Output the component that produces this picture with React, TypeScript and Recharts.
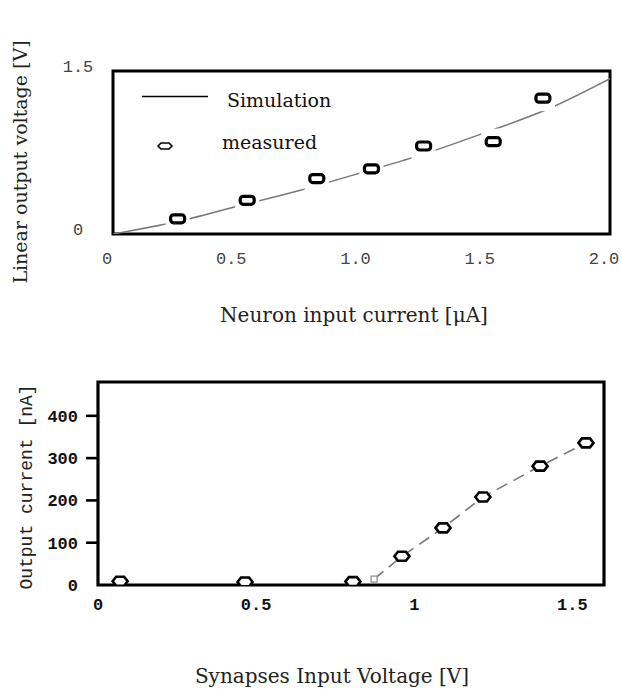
import React from 'react';
import {
  ComposedChart,
  Line,
  Scatter,
  XAxis,
  YAxis,
  ReferenceArea,
  Legend,
  Label,
} from 'recharts';

// ---------- Top chart data ----------
const topSimX = [0, 0.25, 0.5, 0.75, 1.0, 1.25, 1.5, 1.75, 2.0];
const topSimY = [0, 0.11, 0.255, 0.4, 0.565, 0.735, 0.935, 1.15, 1.43];
const topMeasX = [0.26, 0.54, 0.82, 1.04, 1.25, 1.53, 1.73];
const topMeasY = [0.14, 0.31, 0.51, 0.6, 0.81, 0.85, 1.25];
const topXTicks = [0, 0.5, 1.0, 1.5, 2.0];
const topXTickLabels = ['0', '0.5', '1.0', '1.5', '2.0'];
const topYTicks = [0, 1.5];
const topYTickLabels = ['0', '1.5'];
const topInnerTicks = [0.5, 1.0, 1.5];

// ---------- Bottom chart data ----------
const botSimX = [0.873, 0.961, 1.091, 1.217, 1.398, 1.543];
const botSimY = [14, 68, 135, 208, 281, 336];
const botMeasX = [0.07, 0.465, 0.806, 0.961, 1.091, 1.217, 1.398, 1.543];
const botMeasY = [9, 7, 8, 68, 135, 208, 281, 336];
const botXTicks = [0, 0.5, 1, 1.5];
const botYTicks = [0, 100, 200, 300, 400];

const topSim = topSimX.map((x, i) => ({ x, y: topSimY[i] }));
const topMeas = topMeasX.map((x, i) => ({ x, y: topMeasY[i] }));
const botSim = botSimX.map((x, i) => ({ x, y: botSimY[i] }));
const botMeas = botMeasX.map((x, i) => ({ x, y: botMeasY[i] }));

const SERIF = '"DejaVu Serif", serif';
const MONO = '"Liberation Mono", monospace';

const TopMarker = (props: any) => {
  const { cx, cy } = props;
  if (cx == null || cy == null) return <g />;
  return (
    <g>
      <rect x={cx - 12} y={cy - 13} width={24} height={26} fill="#fff" />
      <rect x={cx - 7} y={cy - 4} width={14} height={8} rx={3} fill="#fff" stroke="#000" strokeWidth={3.2} />
    </g>
  );
};

const hexPath = (cx: number, cy: number) =>
  `M${cx - 7.5},${cy} L${cx - 4},${cy - 4.5} L${cx + 4},${cy - 4.5} L${cx + 7.5},${cy} L${cx + 4},${cy + 4.5} L${cx - 4},${cy + 4.5} Z`;

const BotMarker = (props: any) => {
  const { cx, cy } = props;
  if (cx == null || cy == null) return <g />;
  return <path d={hexPath(cx, cy)} fill="#fff" stroke="#000" strokeWidth={2.6} />;
};

const renderTopLegend = (props: any) => {
  const payload = props.payload || [];
  return (
    <div style={{ position: 'relative', width: 250, height: 90 }}>
      {payload.map((entry: any, i: number) => {
        const isLine = entry.type === 'line';
        const rowTop = isLine ? 0 : 42;
        return (
          <div key={`lg-${i}`}>
            {isLine ? (
              <svg style={{ position: 'absolute', left: 12, top: 15 }} width={66} height={3}>
                <line x1={0} y1={1.5} x2={66} y2={1.5} stroke="#000" strokeWidth={1.3} />
              </svg>
            ) : (
              <svg style={{ position: 'absolute', left: 26, top: 61 }} width={18} height={10}>
                <path d="M2,5 L5,2 L13,2 L16,5 L13,8 L5,8 Z" fill="#fff" stroke="#000" strokeWidth={1.6} />
              </svg>
            )}
            <span
              style={{
                position: 'absolute',
                left: isLine ? 97 : 92,
                top: rowTop + 9,
                fontFamily: SERIF,
                fontSize: 19,
                lineHeight: 'normal',
                color: '#111',
                whiteSpace: 'nowrap',
              }}
            >
              {entry.value}
            </span>
          </div>
        );
      })}
    </div>
  );
};

const TopYTick = (props: any) => {
  const { x, y, payload, index } = props;
  const i = topYTicks.indexOf(payload.value);
  return (
    <text
      x={x - 27}
      y={y - 5}
      dy="0.35em"
      textAnchor="middle"
      fontFamily={MONO}
      fontSize={17}
      fill="#444"
    >
      {topYTickLabels[i >= 0 ? i : index]}
    </text>
  );
};

const BotYTick = (props: any) => {
  const { x, y, payload } = props;
  return (
    <g>
      {payload.value !== 0 && (
        <line x1={x + 8} y1={y} x2={x + 20} y2={y} stroke="#000" strokeWidth={2.6} />
      )}
      <text
        x={x}
        y={y}
        dy="0.35em"
        textAnchor="end"
        fontFamily={MONO}
        fontWeight="bold"
        fontSize={17}
        fill="#111"
      >
        {payload.value}
      </text>
    </g>
  );
};

const TopChart = () => (
  <ComposedChart
    width={622}
    height={340}
    margin={{ top: 66, right: 12, bottom: 0, left: 0 }}
  >
    <XAxis
      xAxisId={0}
      dataKey="x"
      type="number"
      domain={[0, 2]}
      ticks={topXTicks}
      tickFormatter={(v: number) => topXTickLabels[topXTicks.indexOf(v)] ?? String(v)}
      axisLine={false}
      tickLine={false}
      tickSize={6}
      tickMargin={12}
      height={106}
      tick={{ fontFamily: MONO, fontSize: 17, fill: '#444', dx: -6 }}
      allowDataOverflow
    >
      <Label
        value="Neuron input current [μA]"
        content={() => (
          <text x={354} y={322} textAnchor="middle" fontFamily={SERIF} fontSize={20} fill="#222">
            Neuron input current [μA]
          </text>
        )}
      />
    </XAxis>
    <XAxis
      xAxisId="top"
      orientation="top"
      type="number"
      dataKey="x"
      domain={[0, 2]}
      ticks={topInnerTicks}
      tickFormatter={() => ''}
      axisLine={false}
      tickLine={{ stroke: '#000', strokeWidth: 1.5 }}
      tickSize={5}
      tickMargin={0}
      height={5}
    />
    <YAxis
      type="number"
      domain={[0, 1.5]}
      ticks={topYTicks}
      width={113}
      axisLine={false}
      tickLine={false}
      tick={<TopYTick />}
      allowDataOverflow
    >
      <Label
        value="Linear output voltage [V]"
        content={() => (
          <text
            x={20}
            y={162}
            transform="rotate(-90 20 162)"
            textAnchor="middle"
            dominantBaseline="central"
            fontFamily={SERIF}
            fontSize={19}
            fill="#222"
          >
            Linear output voltage [V]
          </text>
        )}
      />
    </YAxis>
    <ReferenceArea x1={0} x2={2} y1={0} y2={1.5} fill="none" fillOpacity={0} stroke="#000" strokeWidth={3} />
    <Legend
      layout="vertical"
      align="center"
      verticalAlign="middle"
      wrapperStyle={{ left: 130, top: 80, width: 250, height: 90 }}
      content={renderTopLegend}
    />
    <Line
      data={topSim}
      dataKey="y"
      name="Simulation"
      type="monotone"
      stroke="#777"
      strokeWidth={1.5}
      dot={false}
      activeDot={false}
      legendType="line"
      isAnimationActive={false}
    />
    <Scatter
      data={topMeas}
      dataKey="y"
      name="measured"
      legendType="circle"
      shape={<TopMarker />}
      isAnimationActive={false}
    />
  </ComposedChart>
);

const BotChart = () => (
  <ComposedChart
    width={622}
    height={353}
    margin={{ top: 42, right: 18, bottom: 0, left: 0 }}
  >
    <XAxis
      dataKey="x"
      type="number"
      domain={[0, 1.6]}
      ticks={botXTicks}
      axisLine={false}
      tickLine={false}
      tickSize={6}
      tickMargin={7}
      height={108}
      tick={{ fontFamily: MONO, fontSize: 17, fontWeight: 'bold', fill: '#111' }}
      allowDataOverflow
    >
      <Label
        value="Synapses Input Voltage [V]"
        content={() => (
          <text x={332} y={343} textAnchor="middle" fontFamily={SERIF} fontSize={20} fill="#222">
            Synapses Input Voltage [V]
          </text>
        )}
      />
    </XAxis>
    <YAxis
      type="number"
      domain={[0, 480]}
      ticks={botYTicks}
      width={98}
      axisLine={false}
      tickLine={false}
      tickSize={12}
      tickMargin={8}
      tick={<BotYTick />}
      allowDataOverflow
    >
      <Label
        value="Output current [nA]"
        content={() => (
          <text
            x={27}
            y={147}
            transform="rotate(-90 27 147)"
            textAnchor="middle"
            dominantBaseline="central"
            fontFamily={MONO}
            fontSize={18}
            fill="#222"
          >
            Output current [nA]
          </text>
        )}
      />
    </YAxis>
    <ReferenceArea x1={0} x2={1.6} y1={0} y2={480} fill="none" fillOpacity={0} stroke="#000" strokeWidth={3.2} />
    <Line
      data={botSim}
      dataKey="y"
      name="Simulation"
      type="linear"
      stroke="#777"
      strokeWidth={1.6}
      strokeDasharray="12 7"
      dot={(p: any) =>
        p.index === 0 ? (
          <rect key={`sq-${p.index}`} x={p.cx - 3} y={p.cy - 3} width={6} height={6} fill="#fff" stroke="#888" strokeWidth={1.2} />
        ) : (
          <g key={`nd-${p.index}`} />
        )
      }
      activeDot={false}
      isAnimationActive={false}
    />
    <Scatter
      data={botMeas}
      dataKey="y"
      name="measured"
      shape={<BotMarker />}
      isAnimationActive={false}
    />
  </ComposedChart>
);

export default function App() {
  return (
    <div style={{ position: 'absolute', left: 0, top: 0, width: 622, height: 693, background: '#fff' }}>
      <div style={{ position: 'absolute', left: 0, top: 0 }}>
        <TopChart />
      </div>
      <div style={{ position: 'absolute', left: 0, top: 340 }}>
        <BotChart />
      </div>
    </div>
  );
}
